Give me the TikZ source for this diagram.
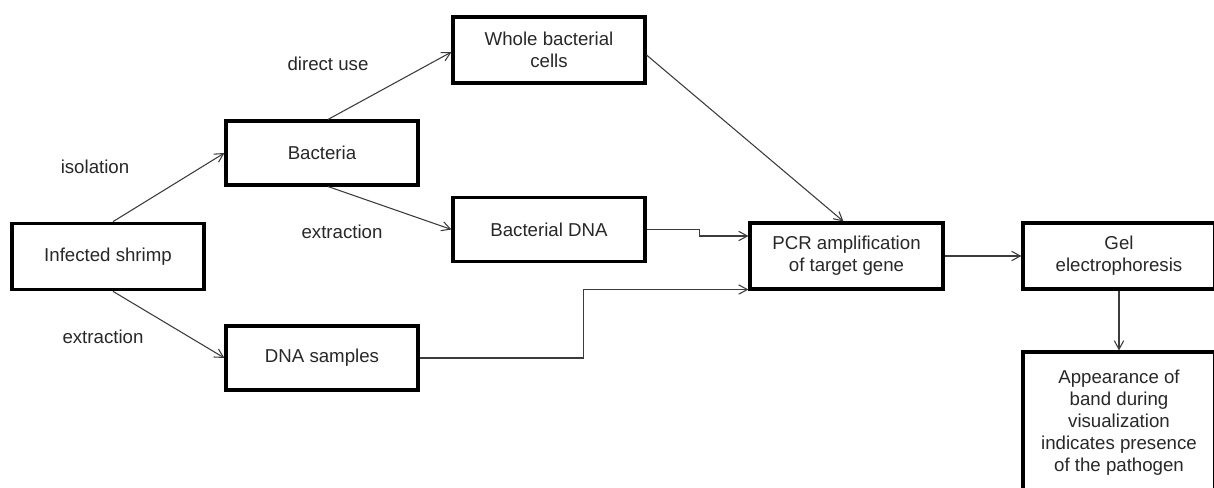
\documentclass[tikz,border=0pt]{standalone}
\usepackage{fontspec}
\setmainfont{Liberation Sans}
\usetikzlibrary{arrows.meta,calc}
\definecolor{txt}{RGB}{40,40,40}
\definecolor{ln}{RGB}{60,60,60}
\tikzset{
  box/.style={draw=black, line width=2.3pt, fill=white, minimum width=144pt, inner sep=0pt,
    align=center, text=txt, font=\fontsize{14}{16.5}\selectfont},
  lbl/.style={text=txt, font=\fontsize{14}{16.5}\selectfont, inner sep=0pt},
  conn/.style={draw=ln, line width=0.8pt, -{Straight Barb[length=6.5pt,width=7pt]}},
}
\begin{document}
\begin{tikzpicture}[x=0.75pt,y=-0.75pt]
\clip (0,0) rectangle (1214,488);
\useasboundingbox (0,0) rectangle (1214,488);
\fill[white] (0,0) rectangle (1214,488);

\node[box, minimum height=50pt] (shrimp) at (108,256.5) {Infected shrimp};
\node[box, minimum height=48pt] (bacteria) at (322,153) {Bacteria};
\node[box, minimum height=49.5pt] (whole) at (549,50) {Whole bacterial\\cells};
\node[box, minimum height=48.5pt] (bdna) at (549,229.5) {Bacterial DNA};
\node[box, minimum height=48pt] (dnas) at (322,358) {DNA samples};
\node[box, minimum height=49.5pt, minimum width=144.75pt] (pcr) at (846.5,256) {PCR amplification\\of target gene};
\node[box, minimum height=49.5pt] (gel) at (1119,256) {Gel\\electrophoresis};
\node[box, minimum height=106.5pt] (app) at (1119,423) {Appearance of\\band during\\visualization\\indicates presence\\of the pathogen};

\node[lbl] (l1) at (95,167) {isolation};
\node[lbl] (l2) at (103,337) {extraction};
\node[lbl] (l3) at (328,64) {direct use};
\node[lbl] (l4) at (342,232) {extraction};

\draw[conn] ($(shrimp.north)+(5,0)$) -- (bacteria.west);
\draw[conn] ($(shrimp.south)+(5,0)$) -- (dnas.west);
\draw[conn] ($(bacteria.north)+(6,0)$) -- ($(whole.west)+(0,2)$);
\draw[conn] ($(bacteria.south)+(6,0)$) -- (bdna.west);
\draw[conn] ($(whole.east)+(0,5)$) -- ($(pcr.north)+(-3,0)$);
\draw[conn] (bdna.east) -- ++(53,0) |- ($(pcr.west)+(0,-20)$);
\draw[conn] (dnas.east) -- ++(164,0) |- ($(pcr.south west)+(0,-1)$);
\draw[conn] (pcr.east) -- (gel.west);
\draw[conn] (gel.south) -- (app.north);
\end{tikzpicture}
\end{document}
